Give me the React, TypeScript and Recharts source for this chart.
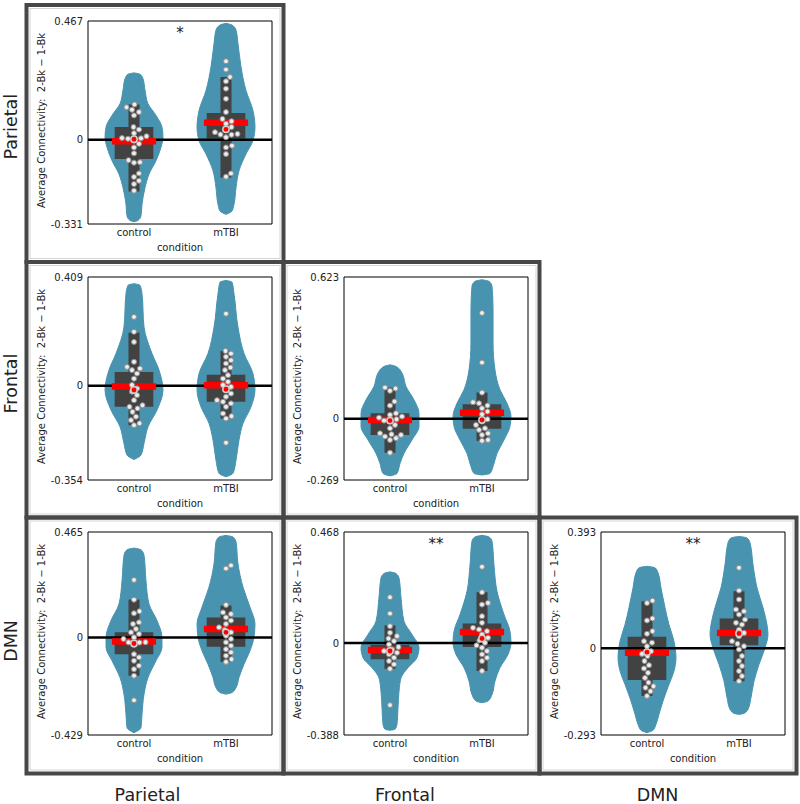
import { ComposedChart, Area, Scatter, XAxis, YAxis, ReferenceArea, ReferenceLine } from 'recharts';

const FONT = '"DejaVu Sans", sans-serif';
const VIOLIN = '#4793b0';
const BOX = '#424242';

const groups = ['control', 'mTBI'];
const networks = ['Parietal', 'Frontal', 'DMN'];
const yTitle = 'Average Connectivity:  2-Bk \u2212 1-Bk';

// violin outlines: [value, half width in category units]
// stats: [whisker low, q1, median, mean, q3, whisker high]

// Parietal - Parietal
const parParLimits = [-0.331, 0.467];
const parParControlViolin = [[0.263, 0], [0.258, 0.065], [0.24, 0.098], [0.194, 0.12], [0.142, 0.152], [0.096, 0.239], [0.05, 0.304], [0.01, 0.315], [-0.03, 0.293], [-0.082, 0.239], [-0.135, 0.163], [-0.188, 0.12], [-0.253, 0.087], [-0.299, 0.076], [-0.317, 0.043], [-0.322, 0]];
const parParMtbiViolin = [[0.458, 0], [0.451, 0.065], [0.431, 0.109], [0.379, 0.13], [0.287, 0.163], [0.194, 0.217], [0.115, 0.293], [0.05, 0.315], [-0.003, 0.293], [-0.056, 0.217], [-0.122, 0.141], [-0.188, 0.109], [-0.253, 0.087], [-0.28, 0.065], [-0.293, 0]];
const parParControlStats = [-0.203, -0.075, -0.006, 0.002, 0.05, 0.139];
const parParMtbiStats = [-0.148, 0.005, 0.067, 0.041, 0.105, 0.247];
const parParControlPoints = [0.139, 0.128, 0.118, 0.109, 0.096, 0.05, 0.04, 0.026, 0.014, 0.006, 0.004, 0.007, -0.003, -0.016, -0.03, -0.053, -0.08, -0.088, -0.09, -0.132, -0.146, -0.161, -0.174, -0.2];
const parParMtbiPoints = [0.309, 0.276, 0.247, 0.23, 0.201, 0.161, 0.109, 0.082, 0.073, 0.063, 0.05, 0.04, 0.03, 0.023, 0.021, 0.02, 0.01, -0.023, -0.03, -0.056, -0.132, -0.145];

// Frontal - Parietal
const froParLimits = [-0.354, 0.409];
const froParControlViolin = [[0.384, 0], [0.378, 0.065], [0.346, 0.087], [0.221, 0.109], [0.121, 0.196], [0.059, 0.272], [-0.016, 0.315], [-0.091, 0.25], [-0.154, 0.152], [-0.216, 0.109], [-0.26, 0.076], [-0.277, 0]];
const froParMtbiViolin = [[0.396, 0], [0.39, 0.065], [0.346, 0.087], [0.221, 0.13], [0.121, 0.196], [0.046, 0.293], [-0.016, 0.315], [-0.079, 0.272], [-0.141, 0.185], [-0.204, 0.141], [-0.279, 0.109], [-0.329, 0.076], [-0.342, 0]];
const froParControlStats = [-0.148, -0.079, -0.003, -0.016, 0.052, 0.199];
const froParMtbiStats = [-0.123, -0.06, 0.002, -0.013, 0.042, 0.131];
const froParControlPoints = [0.259, 0.203, 0.165, 0.09, 0.071, 0.065, 0.059, 0.046, 0.027, 0.003, -0.01, -0.022, -0.035, -0.054, -0.073, -0.079, -0.085, -0.098, -0.116, -0.129, -0.141, -0.148];
const froParMtbiPoints = [0.271, 0.131, 0.121, 0.109, 0.096, 0.084, 0.069, 0.059, 0.04, 0.027, 0.015, 0.003, -0.004, -0.016, -0.029, -0.041, -0.054, -0.06, -0.066, -0.079, -0.104, -0.114, -0.123, -0.214];

// Frontal - Frontal
const froFroLimits = [-0.269, 0.623];
const froFroControlViolin = [[0.237, 0], [0.23, 0.065], [0.201, 0.13], [0.142, 0.174], [0.083, 0.261], [0.024, 0.315], [-0.034, 0.315], [-0.093, 0.239], [-0.152, 0.152], [-0.196, 0.109], [-0.24, 0.076], [-0.251, 0]];
const froFroMtbiViolin = [[0.611, 0], [0.604, 0.076], [0.582, 0.109], [0.479, 0.12], [0.333, 0.12], [0.215, 0.141], [0.127, 0.196], [0.068, 0.272], [0.01, 0.315], [-0.034, 0.304], [-0.093, 0.239], [-0.152, 0.163], [-0.21, 0.12], [-0.24, 0.087], [-0.247, 0]];
const froFroControlStats = [-0.149, -0.071, -0.005, -0.008, 0.024, 0.137];
const froFroMtbiStats = [-0.097, -0.044, 0.027, -0.005, 0.064, 0.115];
const froFroControlPoints = [0.137, 0.133, 0.123, 0.076, 0.058, 0.024, 0.017, 0.01, 0.005, -0.002, -0.008, -0.012, -0.027, -0.042, -0.064, -0.068, -0.071, -0.078, -0.085, -0.093, -0.149];
const froFroMtbiPoints = [0.465, 0.247, 0.115, 0.073, 0.068, 0.058, 0.046, 0.032, 0.02, -0.002, -0.012, -0.027, -0.042, -0.049, -0.064, -0.071, -0.093, -0.097];

// DMN - Parietal
const dmnParLimits = [-0.429, 0.465];
const dmnParControlViolin = [[0.394, 0], [0.387, 0.076], [0.362, 0.109], [0.251, 0.13], [0.148, 0.163], [0.075, 0.25], [0.001, 0.304], [-0.043, 0.304], [-0.102, 0.239], [-0.176, 0.152], [-0.249, 0.109], [-0.338, 0.087], [-0.397, 0.076], [-0.419, 0]];
const dmnParMtbiViolin = [[0.45, 0], [0.443, 0.076], [0.421, 0.109], [0.325, 0.13], [0.222, 0.185], [0.134, 0.261], [0.06, 0.315], [0.001, 0.304], [-0.058, 0.261], [-0.117, 0.196], [-0.176, 0.141], [-0.22, 0.109], [-0.242, 0.065], [-0.249, 0]];
const dmnParControlStats = [-0.168, -0.073, -0.017, -0.026, 0.023, 0.167];
const dmnParMtbiStats = [-0.107, -0.04, 0.038, 0.023, 0.089, 0.141];
const dmnParControlPoints = [0.254, 0.167, 0.116, 0.107, 0.067, 0.06, 0.038, 0.023, 0.016, 0.001, -0.006, -0.02, -0.021, -0.022, -0.031, -0.073, -0.087, -0.102, -0.124, -0.139, -0.168, -0.276];
const dmnParMtbiPoints = [0.318, 0.304, 0.144, 0.111, 0.104, 0.089, 0.075, 0.06, 0.045, 0.033, 0.023, 0.008, -0.006, -0.021, -0.036, -0.051, -0.065, -0.08, -0.095, -0.107];

// DMN - Frontal
const dmnFroLimits = [-0.388, 0.468];
const dmnFroControlViolin = [[0.3, 0], [0.293, 0.065], [0.274, 0.098], [0.19, 0.12], [0.092, 0.152], [0.036, 0.239], [-0.02, 0.315], [-0.062, 0.293], [-0.104, 0.196], [-0.147, 0.12], [-0.203, 0.098], [-0.273, 0.087], [-0.343, 0.076], [-0.364, 0.054], [-0.368, 0]];
const dmnFroMtbiViolin = [[0.454, 0], [0.447, 0.076], [0.429, 0.109], [0.33, 0.13], [0.218, 0.163], [0.12, 0.239], [0.05, 0.304], [0.001, 0.315], [-0.048, 0.283], [-0.104, 0.196], [-0.161, 0.141], [-0.217, 0.109], [-0.245, 0.065], [-0.252, 0]];
const dmnFroControlStats = [-0.109, -0.069, -0.03, -0.034, -0.009, 0.074];
const dmnFroMtbiStats = [-0.118, -0.017, 0.046, 0.019, 0.082, 0.214];
const dmnFroControlPoints = [0.193, 0.124, 0.071, 0.043, 0.029, 0.019, 0.008, -0.006, -0.017, -0.027, -0.034, -0.041, -0.048, -0.062, -0.076, -0.09, -0.109, -0.262];
const dmnFroMtbiPoints = [0.321, 0.214, 0.169, 0.162, 0.113, 0.085, 0.064, 0.057, 0.05, 0.036, 0.022, 0.011, 0.001, -0.01, -0.02, -0.034, -0.048, -0.062, -0.076, -0.118];

// DMN - DMN
const dmnDmnLimits = [-0.293, 0.393];
const dmnDmnControlViolin = [[0.277, 0], [0.272, 0.087], [0.255, 0.12], [0.204, 0.152], [0.137, 0.196], [0.08, 0.239], [0.024, 0.293], [-0.032, 0.315], [-0.077, 0.293], [-0.122, 0.239], [-0.178, 0.174], [-0.223, 0.13], [-0.257, 0.098], [-0.277, 0.065], [-0.285, 0]];
const dmnDmnMtbiViolin = [[0.378, 0], [0.373, 0.087], [0.356, 0.12], [0.283, 0.152], [0.204, 0.196], [0.137, 0.261], [0.08, 0.304], [0.047, 0.315], [0.002, 0.283], [-0.055, 0.217], [-0.111, 0.163], [-0.167, 0.13], [-0.206, 0.098], [-0.22, 0.054], [-0.223, 0]];
const dmnDmnControlStats = [-0.161, -0.107, -0.015, -0.013, 0.039, 0.159];
const dmnDmnMtbiStats = [-0.111, 0.01, 0.052, 0.05, 0.101, 0.193];
const dmnDmnControlPoints = [0.161, 0.153, 0.101, 0.094, 0.058, 0.049, 0.024, 0.019, 0.007, -0.01, -0.019, -0.026, -0.043, -0.057, -0.068, -0.083, -0.1, -0.116, -0.128, -0.133, -0.145, -0.161];
const dmnDmnMtbiPoints = [0.272, 0.195, 0.165, 0.131, 0.125, 0.114, 0.097, 0.086, 0.08, 0.063, 0.052, 0.041, 0.024, 0.015, 0.007, -0.004, -0.026, -0.043, -0.06, -0.077, -0.094, -0.111];

const CHART_W = 250;
const CHART_H = 249;
const PLOT_W = 184;
const PLOT_H = 203;
const PX_PER_X = PLOT_W / 2;

// beeswarm: push each point sideways until it no longer overlaps
function swarm(vals: number[], center: number, pxPerY: number) {
  const d = 5.8;
  const placed: { px: number; py: number }[] = [];
  return [...vals].sort((a, b) => a - b).map((v) => {
    const py = v * pxPerY;
    let off = 0;
    for (let k = 0; k < 80; k++) {
      const cand = k === 0 ? 0 : (k % 2 === 1 ? 1 : -1) * Math.ceil(k / 2) * 0.5;
      if (placed.every((p) => Math.hypot(p.px - cand, p.py - py) >= d)) {
        off = cand;
        break;
      }
    }
    placed.push({ px: off, py });
    return { x: center + off / PX_PER_X, y: v };
  });
}

const dotShape = (p: any) => (
  <circle cx={p.cx} cy={p.cy} r={2.5} fill="#eeeeee" stroke="#8f8f8f" strokeWidth={1} />
);
const meanShape = (p: any) => (
  <circle cx={p.cx} cy={p.cy} r={3.2} fill="#ff0000" stroke="#cfcfcf" strokeWidth={1.5} />
);

const xTitle = (p: any) => {
  const vb = p.viewBox;
  return (
    <text x={vb.x + vb.width / 2} y={vb.y + 26.5} textAnchor="middle" fontSize={10} fontFamily={FONT} fill="#222">
      condition
    </text>
  );
};
const yLabel = (p: any) => {
  const vb = p.viewBox;
  const x = vb.x + vb.width - 43.5;
  const y = vb.y + vb.height / 2 - 2;
  return (
    <text x={x} y={y} transform={`rotate(-90 ${x} ${y})`} textAnchor="middle" fontSize={10} fontFamily={FONT} fill="#222" style={{ whiteSpace: 'pre' }}>
      {yTitle}
    </text>
  );
};

type PanelProps = {
  left: number;
  top: number;
  limits: number[];
  violins: number[][][];
  stats: number[][];
  points: number[][];
  star?: string;
};

function Panel({ left, top, limits, violins, stats, points, star }: PanelProps) {
  const [lo, hi] = limits;
  const pxPerY = PLOT_H / (hi - lo);
  const areas = violins.map((prof, g) =>
    prof.map(([y, w]) => ({ y, band: [g - w, g + w] })).sort((a, b) => a.y - b.y)
  );
  const swarms = points.map((vals, g) => swarm(vals, g, pxPerY));
  const means = stats.map((s, g) => ({ x: g, y: s[3] }));
  const starShape = (p: any) => (
    <text x={p.cx} y={p.cy + 17} textAnchor="middle" fontSize={15} fontFamily={FONT} fill="#222">
      {star}
    </text>
  );

  return (
    <div style={{ position: 'absolute', left, top }}>
      <ComposedChart width={CHART_W} height={CHART_H} layout="vertical" margin={{ top: 6, right: 6, bottom: 0, left: 20 }}>
        <XAxis
          type="number"
          domain={[-0.5, 1.5]}
          ticks={[0, 1]}
          interval={0}
          allowDataOverflow
          tickFormatter={(v) => groups[v]}
          axisLine={false}
          tickLine={false}
          tickSize={3}
          tickMargin={2}
          height={40}
          tick={{ fill: '#222', fontSize: 10, fontFamily: FONT }}
          label={xTitle}
        />
        <YAxis
          type="number"
          dataKey="y"
          reversed
          domain={[lo, hi]}
          ticks={[lo, 0, hi]}
          interval={0}
          allowDataOverflow
          axisLine={false}
          tickLine={false}
          tickSize={3}
          tickMargin={2}
          width={40}
          tick={{ fill: '#222', fontSize: 10, fontFamily: FONT }}
          label={yLabel}
        />
        {areas.map((d, g) => (
          <Area key={'v' + g} data={d} dataKey="band" type="monotone" fill={VIOLIN} fillOpacity={1} stroke={VIOLIN} strokeWidth={1} dot={false} activeDot={false} isAnimationActive={false} zIndex={100} />
        ))}
        {stats.map((s, g) => (
          <ReferenceArea key={'w' + g} x1={g - 0.06} x2={g + 0.06} y1={s[0]} y2={s[5]} fill={BOX} fillOpacity={1} zIndex={150} />
        ))}
        {stats.map((s, g) => (
          <ReferenceArea key={'b' + g} x1={g - 0.21} x2={g + 0.21} y1={s[1]} y2={s[4]} fill={BOX} fillOpacity={1} zIndex={150} />
        ))}
        <ReferenceLine y={0} stroke="#000" strokeWidth={2.5} zIndex={200} />
        {stats.map((s, g) => (
          <ReferenceLine key={'m' + g} segment={[{ x: g - 0.24, y: s[2] }, { x: g + 0.24, y: s[2] }]} stroke="#ff0000" strokeWidth={6.5} zIndex={250} />
        ))}
        {swarms.map((d, g) => (
          <Scatter key={'s' + g} data={d} dataKey="x" shape={dotShape} isAnimationActive={false} zIndex={600} />
        ))}
        <Scatter data={means} dataKey="x" shape={meanShape} isAnimationActive={false} zIndex={650} />
        {star && <Scatter data={[{ x: 0.5, y: hi }]} dataKey="x" shape={starShape} isAnimationActive={false} zIndex={650} />}
        <ReferenceArea x1={-0.5} x2={1.5} y1={lo} y2={hi} fill="none" stroke="#000" strokeWidth={1} ifOverflow="visible" zIndex={700} />
      </ComposedChart>
    </div>
  );
}

const colLeft = [28, 284, 541];
const rowTop = [15, 271, 526];
const frameX = [26.5, 283.5, 539.5, 796.5];
const frameY = [5, 262, 517.5, 773.5];

export default function App() {
  const cells = [
    { r: 0, c: 0, limits: parParLimits, violins: [parParControlViolin, parParMtbiViolin], stats: [parParControlStats, parParMtbiStats], points: [parParControlPoints, parParMtbiPoints], star: '*' },
    { r: 1, c: 0, limits: froParLimits, violins: [froParControlViolin, froParMtbiViolin], stats: [froParControlStats, froParMtbiStats], points: [froParControlPoints, froParMtbiPoints] },
    { r: 1, c: 1, limits: froFroLimits, violins: [froFroControlViolin, froFroMtbiViolin], stats: [froFroControlStats, froFroMtbiStats], points: [froFroControlPoints, froFroMtbiPoints] },
    { r: 2, c: 0, limits: dmnParLimits, violins: [dmnParControlViolin, dmnParMtbiViolin], stats: [dmnParControlStats, dmnParMtbiStats], points: [dmnParControlPoints, dmnParMtbiPoints] },
    { r: 2, c: 1, limits: dmnFroLimits, violins: [dmnFroControlViolin, dmnFroMtbiViolin], stats: [dmnFroControlStats, dmnFroMtbiStats], points: [dmnFroControlPoints, dmnFroMtbiPoints], star: '**' },
    { r: 2, c: 2, limits: dmnDmnLimits, violins: [dmnDmnControlViolin, dmnDmnMtbiViolin], stats: [dmnDmnControlStats, dmnDmnMtbiStats], points: [dmnDmnControlPoints, dmnDmnMtbiPoints], star: '**' },
  ];
  const rowLabelY = [126.7, 383.5, 641];
  const colLabelX = [147.5, 405, 657.5];

  return (
    <div style={{ position: 'absolute', left: 0, top: 0, width: 800, height: 804, background: '#fff', fontFamily: FONT }}>
      {cells.map((cell) => (
        <Panel key={`${cell.r}-${cell.c}`} left={colLeft[cell.c]} top={rowTop[cell.r]} limits={cell.limits} violins={cell.violins} stats={cell.stats} points={cell.points} star={cell.star} />
      ))}
      <svg width={800} height={804} style={{ position: 'absolute', left: 0, top: 0, pointerEvents: 'none' }}>
        {cells.map((cell) => (
          <rect
            key={`in-${cell.r}-${cell.c}`}
            x={frameX[cell.c] + 3.5}
            y={frameY[cell.r] + 3.5}
            width={frameX[cell.c + 1] - frameX[cell.c] - 7}
            height={frameY[cell.r + 1] - frameY[cell.r] - 7}
            fill="none"
            stroke="#d4d4d4"
            strokeWidth={1}
          />
        ))}
        {cells.map((cell) => (
          <rect
            key={`fr-${cell.r}-${cell.c}`}
            x={frameX[cell.c]}
            y={frameY[cell.r]}
            width={frameX[cell.c + 1] - frameX[cell.c]}
            height={frameY[cell.r + 1] - frameY[cell.r]}
            fill="none"
            stroke="#474747"
            strokeWidth={4}
          />
        ))}
        {networks.map((n, i) => (
          <text key={'r' + n} x={16.7} y={rowLabelY[i]} transform={`rotate(-90 16.7 ${rowLabelY[i]})`} textAnchor="middle" fontSize={17.5} fontFamily={FONT} fill="#222">
            {n}
          </text>
        ))}
        {networks.map((n, i) => (
          <text key={'c' + n} x={colLabelX[i]} y={800.5} textAnchor="middle" fontSize={17.5} fontFamily={FONT} fill="#222">
            {n}
          </text>
        ))}
      </svg>
    </div>
  );
}
